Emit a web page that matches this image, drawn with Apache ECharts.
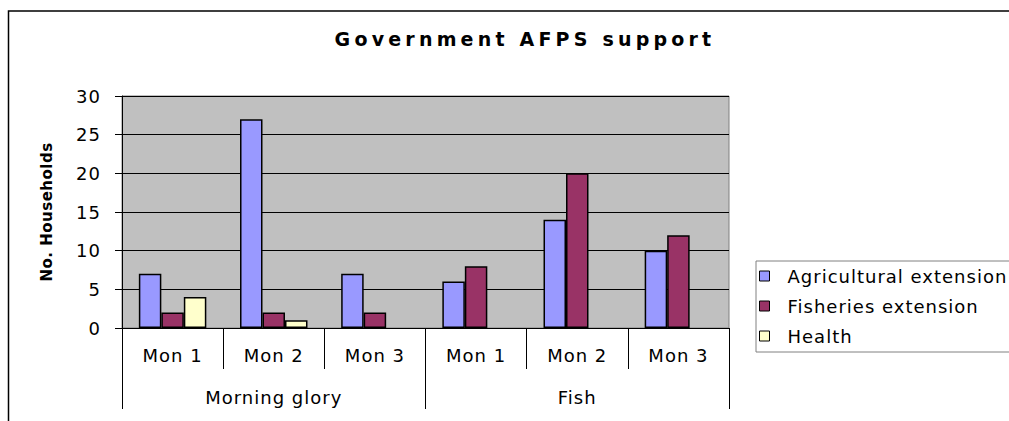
<!DOCTYPE html>
<html>
<head>
<meta charset="utf-8">
<script src="https://cdn.jsdelivr.net/npm/echarts@6/dist/echarts.min.js"></script>
<style>
  html, body { margin: 0; padding: 0; background: #ffffff; }
  #chart { width: 1009px; height: 421px; }
</style>
</head>
<body>
<div id="chart"></div>
<script>
// Household counts receiving government AFPS support, by product and month
const titleText = 'Government AFPS support';
const yAxisName = 'No. Households';
const seriesNames = ['Agricultural extension', 'Fisheries extension', 'Health'];
const months = ['Mon 1', 'Mon 2', 'Mon 3', 'Mon 1', 'Mon 2', 'Mon 3'];
const groups = ['Morning glory', 'Fish'];
const agricultural = [7, 27, 7, 6, 14, 10];
const fisheries = [2, 2, 2, 8, 20, 12];
const health = [4, 1, 0, 0, 0, 0];
const yMin = 0;
const yMax = 30;
const yStep = 5;

const colors = ['#9999FF', '#993366', '#FFFFCC'];
const FONT = 'DejaVu Sans';

const chart = echarts.init(document.getElementById('chart'), null, { renderer: 'svg' });

function barSeries(name, values, color) {
  return {
    name: name,
    type: 'bar',
    xAxisIndex: 0,
    yAxisIndex: 0,
    // an empty count gets no outline, so nothing shows on the baseline
    data: values.map(function (v) {
      return v === 0 ? { value: v, itemStyle: { borderWidth: 0 } } : v;
    }),
    barGap: '0%',
    barCategoryGap: '33.3%',
    itemStyle: { color: color, borderColor: '#000000', borderWidth: 1.5 },
    emphasis: { disabled: true }
  };
}

chart.setOption({
  animation: false,
  graphic: [
    {
      type: 'rect',
      z: -10,
      shape: { x: 8.5, y: 11, width: 1200, height: 600 },
      style: { fill: 'none', stroke: '#000000', lineWidth: 1.5 }
    },
    {
      type: 'text',
      z: 10,
      style: {
        text: titleText,
        x: 525,
        y: 39,
        textAlign: 'center',
        textVerticalAlign: 'middle',
        fontFamily: FONT,
        fontSize: 19,
        fontWeight: 'bold',
        fill: '#000000'
      }
    }
  ],
  legend: {
    orient: 'vertical',
    left: 756,
    top: 261,
    padding: [5, 140, 6, 3],
    itemGap: 10,
    itemWidth: 10,
    itemHeight: 10,
    icon: 'rect',
    backgroundColor: '#ffffff',
    borderColor: '#808080',
    borderWidth: 1,
    data: seriesNames,
    itemStyle: { borderColor: '#000000', borderWidth: 1 },
    textStyle: {
      fontFamily: FONT,
      fontSize: 18,
      color: '#000000',
      lineHeight: 20,
      padding: [0, 0, 0, 13]
    }
  },
  grid: {
    left: 122,
    right: 280,
    top: 96,
    bottom: 93,
    show: true,
    backgroundColor: '#C0C0C0',
    borderColor: '#808080',
    borderWidth: 1,
    containLabel: false
  },
  xAxis: [
    {
      type: 'category',
      data: months,
      position: 'bottom',
      axisLine: { show: true, onZero: false, lineStyle: { color: '#000000', width: 1 } },
      axisTick: { show: true, interval: 0, length: 41, lineStyle: { color: '#000000' } },
      axisLabel: { interval: 0, margin: 18, fontFamily: FONT, fontSize: 18, color: '#000000' },
      splitLine: { show: false }
    },
    {
      type: 'category',
      data: groups,
      position: 'bottom',
      axisLine: { show: false, onZero: false },
      axisTick: { show: true, interval: 0, length: 81, lineStyle: { color: '#000000' } },
      axisLabel: { interval: 0, margin: 60, fontFamily: FONT, fontSize: 18, color: '#000000' },
      splitLine: { show: false }
    }
  ],
  yAxis: {
    type: 'value',
    min: yMin,
    max: yMax,
    interval: yStep,
    name: yAxisName,
    nameLocation: 'middle',
    nameGap: 68,
    nameTextStyle: { fontFamily: FONT, fontSize: 15, fontWeight: 'bold', color: '#000000' },
    axisLine: { show: true, lineStyle: { color: '#000000' } },
    axisTick: { show: true, length: 7, lineStyle: { color: '#000000' } },
    axisLabel: { margin: 21, fontFamily: FONT, fontSize: 18, color: '#000000' },
    splitLine: { show: true, lineStyle: { color: '#000000', width: 1 } }
  },
  series: [
    barSeries(seriesNames[0], agricultural, colors[0]),
    barSeries(seriesNames[1], fisheries, colors[1]),
    barSeries(seriesNames[2], health, colors[2])
  ]
});

// Widen the tracking of the SVG text: the title is set loosely, labels slightly.
function spaceText() {
  document.querySelectorAll('#chart svg text').forEach(function (t) {
    const cs = getComputedStyle(t);
    const size = parseFloat(cs.fontSize);
    const bold = parseInt(cs.fontWeight, 10) >= 600;
    let s = '1px';
    if (bold && size >= 17) s = '4.2px';
    else if (bold) s = '0.5px';
    t.style.letterSpacing = s;
  });
}
chart.on('finished', spaceText);
spaceText();
requestAnimationFrame(spaceText);
</script>
</body>
</html>
